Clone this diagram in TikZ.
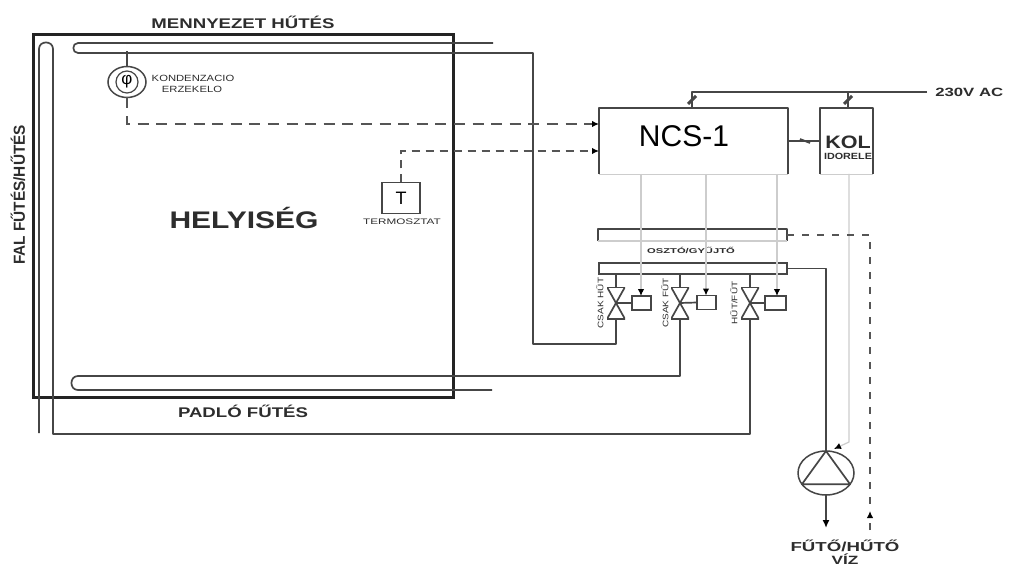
\documentclass[tikz,border=0pt]{standalone}
\usepackage{fontspec}
\setmainfont{Liberation Sans}
\usepackage{color}
\definecolor{mypipe}{RGB}{70,70,70}
\definecolor{mywall}{RGB}{35,35,35}
\definecolor{mysignal}{RGB}{205,205,205}
\definecolor{mydash}{RGB}{85,85,85}
\definecolor{mylabel}{RGB}{45,45,45}
\usetikzlibrary{arrows.meta,positioning,shapes.geometric}

\newcommand{\mysize}[1]{\fontsize{#1}{#1}\selectfont}

\begin{document}
\begin{tikzpicture}[
  x=1pt,
  y=-1pt,
  pipe/.style={draw=mypipe, line width=1.7pt, line join=round},
  signal/.style={draw=mysignal, line width=1.2pt},
  sensorline/.style={draw=mydash, line width=1.9pt, dash pattern=on 11pt off 7.6pt},
  sensorthin/.style={draw=mydash, line width=1.4pt, dash pattern=on 8pt off 6pt},
  returnline/.style={draw=mydash, line width=2pt, dash pattern=on 7pt off 8pt},
  tip/.style={-{Latex[length=7pt,width=6.5pt,black]}},
  panel/.style={inner sep=0pt, outer sep=0pt},
  myvalve/.style={
    panel,
    minimum width=18pt,
    minimum height=32pt,
    path picture={
      \draw[pipe] (path picture bounding box.north west) -- (path picture bounding box.south east)
        -- (path picture bounding box.south west) -- (path picture bounding box.north east) -- cycle;
    }
  },
  myactuator/.style={panel, draw=mypipe, line width=1.4pt, minimum width=19pt, minimum height=14pt},
  boldtext/.style={font=\bfseries\mysize{14}, text=mylabel, xscale=1.33, inner sep=0pt},
  smalltext/.style={font=\mysize{9}, text=mylabel, xscale=1.25, inner sep=0pt},
  valvetext/.style={font=\mysize{8}, text=mylabel, rotate=90, xscale=1.25, inner sep=0pt}
]
\useasboundingbox[fill=white] (0,0) rectangle (1010,567);

\node [panel, draw=mywall, line width=3pt, minimum width=420pt, minimum height=362pt] (room) at (243,216) {};
\node [boldtext] (ceiling) at (243,22) {MENNYEZET HŰTÉS};
\node [boldtext] (floor) at (243,411) {PADLÓ FŰTÉS};
\node [boldtext, font=\bfseries\mysize{24}, xscale=0.94] (roomname) at (244,218) {HELYISÉG};
\node [boldtext, font=\bfseries\mysize{12}, rotate=90, xscale=1.28] (wall) at (18,195) {FAL FŰTÉS/HŰTÉS};

\coordinate (ceilin) at (493,43);
\coordinate (ceilout) at (78,53);
\coordinate (ceilturn) at (78,43);
\coordinate (ceilbend) at (533,344);
\coordinate (floorin) at (492,390);
\coordinate (floorturn) at (78,390);
\coordinate (floorout) at (78,376);
\coordinate (wallin) at (39,433);
\coordinate (wallturn) at (39,49);
\coordinate (wallout) at (53,49);
\coordinate (wallbend) at (53,434);

\node [panel, minimum width=189pt, minimum height=66pt] (ncs) at (693.5,141) {};
\node [panel, minimum width=53pt, minimum height=66pt] (kol) at (846.5,141) {};
\node [font=\mysize{30}, inner sep=0pt] (ncsname) at (684,136) {NCS-1};
\node [boldtext, font=\bfseries\mysize{18}, xscale=0.9] (kolname) at (848,142) {KOL};
\node [boldtext, font=\bfseries\mysize{9}, xscale=0.9] (kolsub) at (848,156) {IDORELE};
\node [boldtext, font=\bfseries\mysize{12}, xscale=1.05, anchor=west] (mains) at (935,92) {230V AC};
\coordinate (mainsend) at (927,92);
\coordinate (mainsa) at (692,92);
\coordinate (mainsb) at (848,92);

\node [panel, minimum width=189pt, minimum height=12pt] (collect) at (692.5,235) {};
\node [panel, draw=mypipe, line width=1.5pt, minimum width=188pt, minimum height=11pt] (distrib) at (693,268.5) {};
\node [boldtext, font=\bfseries\mysize{7}, xscale=1.2] (manifold) at (691,250) {OSZTÓ/GYŰJTŐ};

\node [myvalve] (va) at (616,303) {};
\node [myvalve] (vb) at (680,303) {};
\node [myvalve] (vc) at (750,303) {};
\node [myactuator] (aa) at (641.5,303) {};
\node [myactuator] (ab) at (706.5,302.5) {};
\node [myactuator, minimum width=21pt] (ac) at (775.5,303) {};
\node [valvetext] (la) at (600,303) {CSAK HŰT};
\node [valvetext] (lb) at (665,303) {CSAK FŰT};
\node [valvetext] (lc) at (734,303) {HŰT/FŰT};

\node [ellipse, panel, draw=mypipe, line width=1.5pt, minimum width=38pt, minimum height=31pt] (hum) at (127,82) {};
\node [circle, panel, draw=mypipe, line width=1.2pt, minimum size=22pt, font=\mysize{17}] (humin) at (127,82) {φ};
\node [smalltext] (humtop) at (193,78) {KONDENZACIO};
\node [smalltext] (humsub) at (192,89) {ERZEKELO};
\node [panel, draw=mypipe, line width=1.5pt, minimum width=38pt, minimum height=31pt, font=\mysize{18}] (thermo) at (401,198) {T};
\node [smalltext, font=\mysize{8}, xscale=1.17] (thermoname) at (402,222) {TERMOSZTAT};

\node [ellipse, panel, draw=mypipe, line width=1.5pt, minimum width=56pt, minimum height=44pt] (pump) at (826,473) {};
\coordinate (pumpout) at (826,528);
\coordinate (kolout) at (849,174);
\coordinate (pumpfeed) at (849,442);
\coordinate (pumpfeedend) at (834,449);
\node [boldtext, font=\bfseries\mysize{13}, xscale=1.08] (water) at (845,546) {FŰTŐ/HŰTŐ};
\node [boldtext, font=\bfseries\mysize{12}, xscale=1.08] (watersub) at (845,559) {VÍZ};
\coordinate (backstart) at (870,530);
\coordinate (backtip) at (870,511);

\draw [pipe] (ceilin) -- (ceilturn) to[out=180,in=180,looseness=1.6] (ceilout) -- (ceilout -| ceilbend) |- (va.south |- ceilbend) -- (va.south);
\draw [pipe] (floorin) -- (floorturn) to[out=180,in=180,looseness=1.6] (floorout) -| (vb.south);
\draw [pipe] (wallin) -- (wallturn) to[out=90,in=90,looseness=1.6] (wallout) -- (wallbend) -| (vc.south);

\draw [pipe] (va.north) -- (va.north |- distrib.south);
\draw [pipe] (vb.north) -- (vb.north |- distrib.south);
\draw [pipe] (vc.north) -- (vc.north |- distrib.south);
\draw [pipe] (va.center) -- (aa.west);
\draw [pipe] (vb.center) -- (ab.west);
\draw [pipe] (vc.center) -- (ac.west);

\draw [pipe, line width=1.8pt] (ncs.south west) -- (ncs.north west) -- (ncs.north east) -- (ncs.south east);
\draw [pipe, line width=1.8pt] (kol.south west) -- (kol.north west) -- (kol.north east) -- (kol.south east);
\draw [signal, line width=0.8pt] (ncs.south west) -- (ncs.south east);
\draw [signal, line width=0.8pt] (kol.south west) -- (kol.south east);
\draw [pipe] (ncs.east) -- (kol.west);
\draw [pipe] (800,139) to[out=-20,in=160] (810,143);
\draw [pipe] (mainsend) -- (mainsa) -- (mainsa |- ncs.north);
\draw [pipe] (mainsb) -- (mainsb |- kol.north);
\draw [pipe, line width=3pt] (688,104) -- (696,96);
\draw [pipe, line width=3pt] (844,104) -- (852,96);

\draw [pipe, line width=1.8pt] (collect.south west) -- (collect.north west) -- (collect.north east) -- (collect.south east);
\draw [signal] (collect.south west) -- (collect.south east);

\draw [signal, tip] (641,174) -- (aa.north -| 641,0);
\draw [signal, tip] (706,174) -- (ab.north -| 706,0);
\draw [signal, tip] (777,174) -- (ac.north -| 777,0);
\draw [signal, tip] (kolout) -- (pumpfeed) -- (pumpfeedend);

\draw [sensorline, tip] (hum.south) |- (ncs.north west |- 0,124);
\draw [pipe] (hum.north) -- (127,51);
\draw [sensorthin, tip] (thermo.north) |- (ncs.north west |- 0,151);
\draw [returnline] (collect.east) -| (backtip);
\draw [returnline, tip] (backstart) -- (backtip);
\draw [pipe] (distrib.east) -| (pump.north);
\draw [pipe, -{Latex[length=8pt,width=7pt,black]}] (pump.south) -- (pumpout);
\draw [pipe] (pump.north) -- (pump.205) -- (pump.335) -- cycle;

\end{tikzpicture}
\end{document}
